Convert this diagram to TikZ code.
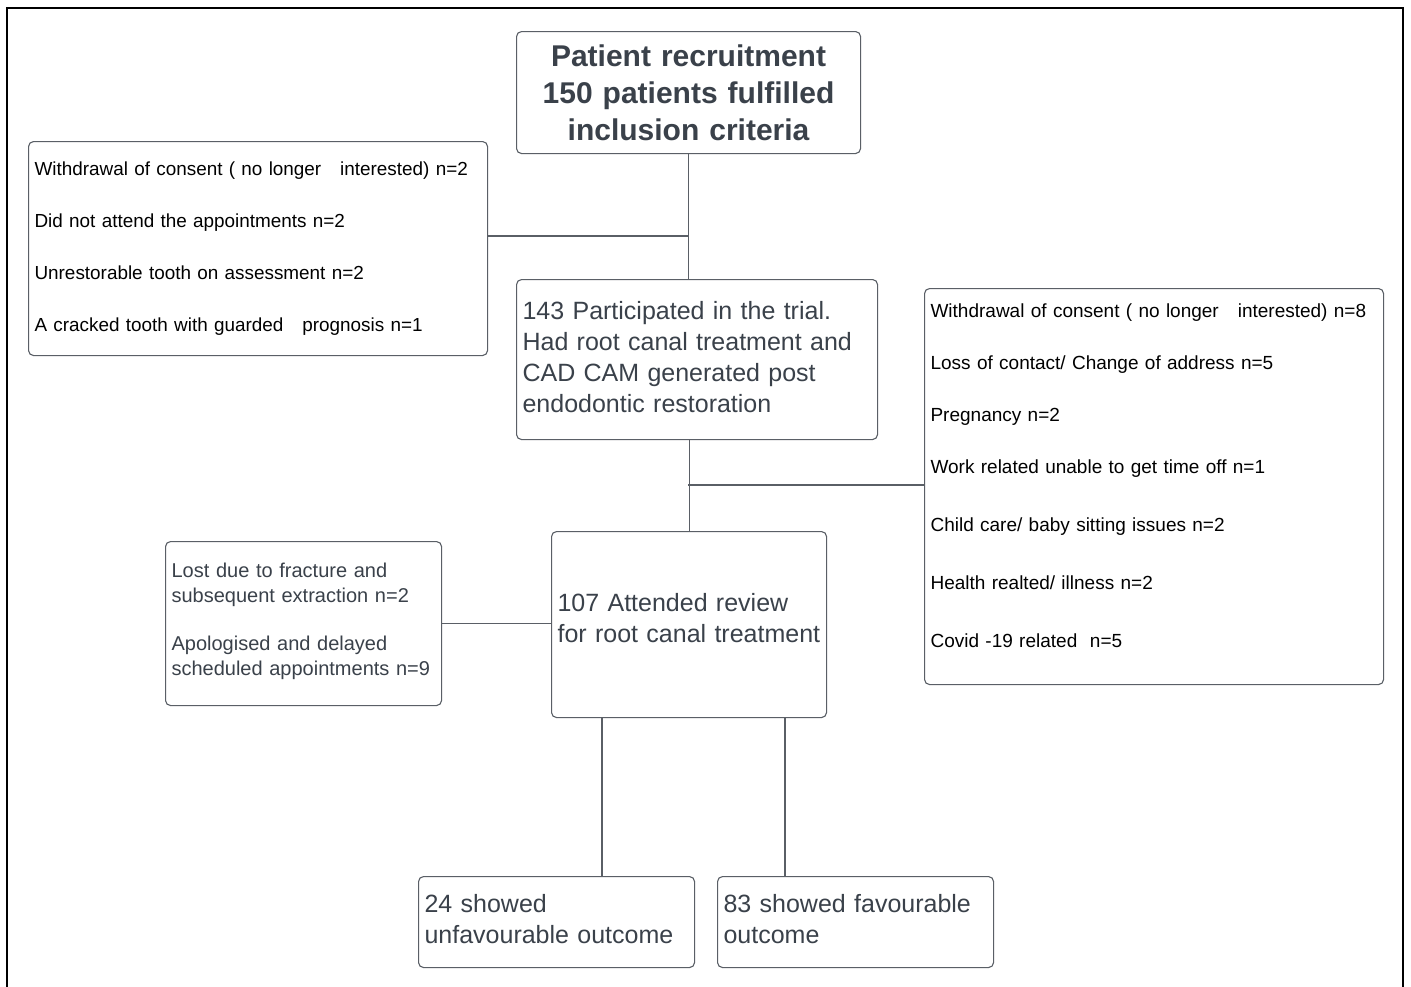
\documentclass[tikz,border=0pt]{standalone}
\usepackage{fontspec}
\setmainfont{Liberation Sans}
\definecolor{txt}{HTML}{3A414A}
\definecolor{edge}{HTML}{5A5F66}
\begin{document}
\begin{tikzpicture}[x=1pt,y=-1pt,
  box/.style={draw=edge,line width=1.1pt,rounded corners=5pt,anchor=north west,
    inner xsep=6pt,inner ysep=0pt,align=left},
  conn/.style={draw=edge,line width=1.1pt}]
\useasboundingbox (0,0) rectangle (1411,986);
\fill[white] (0,0) rectangle (1411,986);
\draw[line width=2pt,black] (7,995) -- (7,8) -- (1403,8) -- (1403,995);

\node[box,align=center,minimum width=344pt,minimum height=122pt,text width=332pt,
  text=txt,font=\fontsize{30}{37}\selectfont\bfseries] (top) at (516,31)
  {Patient recruitment\\150 patients fulfilled\\inclusion criteria};

\node[box,minimum width=459pt,minimum height=214pt,text width=447pt,
  font=\fontsize{18.9}{52}\selectfont] (l1) at (28,141)
  {Withdrawal of consent ( no longer \ \ interested) n=2\\
   Did not attend the appointments n=2\\
   Unrestorable tooth on assessment n=2\\
   A cracked tooth with guarded \ \ prognosis n=1};

\node[box,minimum width=361pt,minimum height=160pt,text width=349pt,text=txt,
  font=\fontsize{25}{31}\selectfont] (b143) at (516,279)
  {143 Participated in the trial.\\Had root canal treatment and\\CAD CAM generated post\\endodontic restoration\\[-26pt]\mbox{}};

\node[box,minimum width=459pt,minimum height=396pt,text width=447pt,
  font=\fontsize{19}{52}\selectfont] (r1) at (924,288)
  {Withdrawal of consent ( no longer \ \ interested) n=8\\
   Loss of contact/ Change of address n=5\\
   Pregnancy n=2\\
   Work related unable to get time off n=1\\[6pt]
   Child care/ baby sitting issues n=2\\[6pt]
   Health realted/ illness n=2\\[6pt]
   Covid -19 related \ n=5\\[-30pt]\mbox{}};

\node[box,minimum width=275pt,minimum height=186pt,text width=263pt,text=txt,
  font=\fontsize{25}{31}\selectfont] (b107) at (551,531)
  {107 Attended review\\for root canal treatment\\[-18pt]\mbox{}};

\node[box,minimum width=276pt,minimum height=164pt,text width=264pt,text=txt,
  font=\fontsize{20}{24.5}\selectfont] (l2) at (165,541)
  {Lost due to fracture and\\subsequent extraction n=2\\[24pt]
   Apologised and delayed\\scheduled appointments n=9\\[-16pt]\mbox{}};

\node[box,minimum width=276pt,minimum height=91pt,text width=264pt,text=txt,
  font=\fontsize{25}{31}\selectfont] (bl) at (418,876)
  {24 showed\\unfavourable outcome\\[-24pt]\mbox{}};

\node[box,minimum width=276pt,minimum height=91pt,text width=264pt,text=txt,
  font=\fontsize{25}{31}\selectfont] (br) at (717,876)
  {83 showed favourable\\outcome\\[-24pt]\mbox{}};

\coordinate (j1) at (688,236);
\coordinate (j2) at (688,485);
\draw[conn] (top.south) -- (top.south |- b143.north);
\draw[conn] (j1) -- (j1 -| l1.east);
\draw[conn] (b143.south -| b107.north) -- (b107.north);
\draw[conn] (j2) -- (j2 -| r1.west);
\draw[conn] (l2.east) -- (l2.east -| b107.west);
\draw[conn] (b107.south -| 602,0) -- (bl.north -| 602,0);
\draw[conn] (b107.south -| 785,0) -- (br.north -| 785,0);
\end{tikzpicture}
\end{document}
